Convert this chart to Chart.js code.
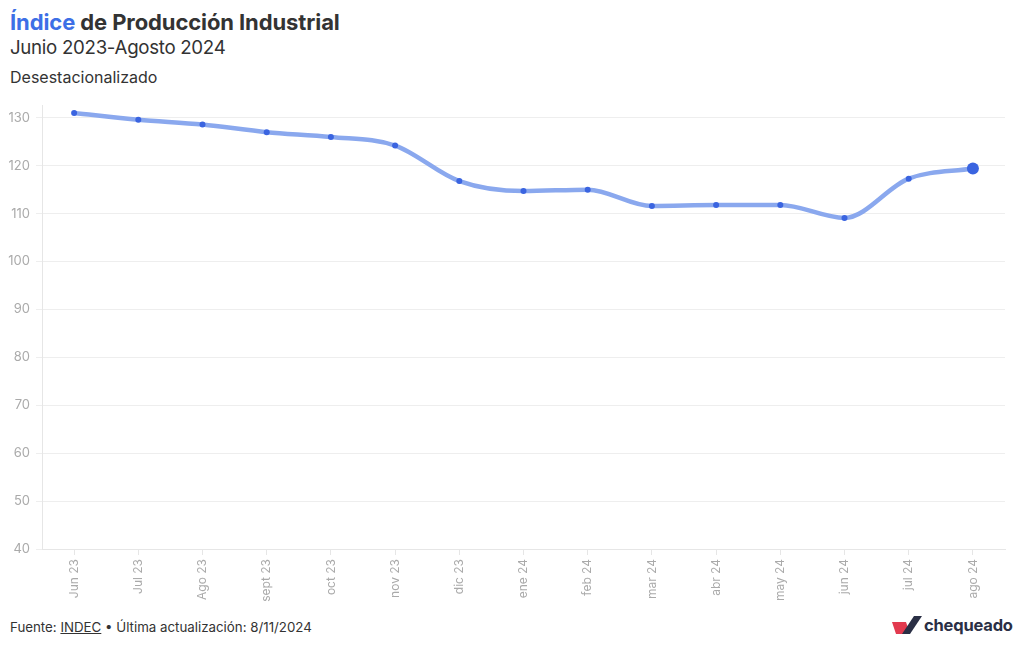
<!DOCTYPE html>
<html><head><meta charset="utf-8">
<script src="https://cdn.jsdelivr.net/npm/chart.js@4"></script>
<style>
body{margin:0;background:#fff;font-family:Inter,"Liberation Sans",sans-serif;color:#333;}
#wrap{position:relative;width:1020px;height:650px;overflow:hidden;}
.t1{position:absolute;left:10px;top:9px;font-size:22px;font-weight:700;color:#333;letter-spacing:-0.1px;}
.t1 span{color:#3d6fe6;}
.t2{position:absolute;left:10px;top:36px;font-size:18.7px;color:#333;letter-spacing:-0.3px;}
.t3{position:absolute;left:10px;top:67px;font-size:16px;color:#333;}
#cv{position:absolute;left:0;top:92px;}
.foot{position:absolute;left:10px;top:619px;font-size:13.3px;color:#333;}
.foot u{text-decoration:underline;}
.logo{position:absolute;left:892px;top:614px;display:flex;align-items:center;}
.logo b{font-size:16.5px;font-weight:700;color:#2a2f45;margin-left:2px;letter-spacing:-0.2px;}
</style></head><body>
<div id="wrap">
<div class="t1"><span>Índice</span> de Producción Industrial</div>
<div class="t2">Junio 2023-Agosto 2024</div>
<div class="t3">Desestacionalizado</div>
<canvas id="cv" width="1020" height="518"></canvas>
<div class="foot">Fuente: <u>INDEC</u> • Última actualización: 8/11/2024</div>
<div class="logo"><svg width="30" height="22" viewBox="0 0 30 22"><polygon points="0,8 14,8 18,20 4,20" fill="#e23a4f"/><polygon points="10,20 22,2 30,2 18,20" fill="#2a2f45"/></svg><b>chequeado</b></div>
</div>
<script>
const categories=["Jun 23","Jul 23","Ago 23","sept 23","oct 23","nov 23","dic 23","ene 24","feb 24","mar 24","abr 24","may 24","jun 24","jul 24","ago 24"];
const values=[131.0,129.6,128.6,127.0,126.0,124.2,116.8,114.7,115.0,111.6,111.8,111.8,109.1,117.3,119.4];
const yTicks=[40,50,60,70,80,90,100,110,120,130];
const n=values.length;
new Chart(document.getElementById('cv'),{
 type:'line',
 data:{labels:categories,datasets:[{data:values,borderColor:'#8aa8ee',borderWidth:4.5,cubicInterpolationMode:'monotone',
  pointBackgroundColor:'#3a64e0',pointBorderWidth:0,
  pointRadius:values.map((v,i)=>i===n-1?6:3)}]},
 options:{responsive:false,animation:false,
  layout:{padding:{top:5,right:15,left:0,bottom:0}},
  plugins:{legend:{display:false},tooltip:{enabled:false}},
  scales:{
   x:{offset:true,
      grid:{drawOnChartArea:false,tickLength:6,color:'#e6e6e6'},
      border:{color:'#e6e6e6'},
      ticks:{color:'#aaa',font:{family:'Inter',size:12},maxRotation:90,minRotation:90,padding:4},
      afterFit(s){s.height=61;}},
   y:{min:40,max:132.5,
      grid:{color:'#eeeeee',tickLength:6},
      border:{color:'#e6e6e6'},
      ticks:{color:'#aaa',font:{family:'Inter',size:13},stepSize:10,includeBounds:false,padding:6},
      afterBuildTicks(s){s.ticks=yTicks.map(v=>({value:v}));},
      afterFit(s){s.width=42;}}
  }}
});
</script>
</body></html>
